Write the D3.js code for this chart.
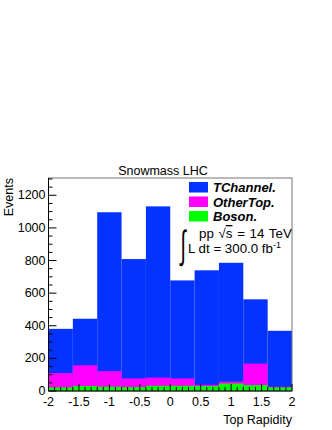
<!DOCTYPE html>
<html>
<head>
<meta charset="utf-8">
<script src="https://cdn.jsdelivr.net/npm/d3@7"></script>
<style>
  body { margin: 0; background: #fff; }
  text { font-family: "Liberation Sans", Arial, sans-serif; }
</style>
</head>
<body>
<div id="chart"></div>
<script>
const binEdges = [-2, -1.6, -1.2, -0.8, -0.4, 0, 0.4, 0.8, 1.2, 1.6, 2];
const boson = [22, 30, 26, 24, 32, 32, 30, 46, 36, 22];
const otherTop = [88, 128, 96, 53, 50, 45, 8, 12, 132, 4];
const tChannel = [271, 285, 974, 732, 1050, 601, 702, 728, 394, 343];
const xTicks = [-2, -1.5, -1, -0.5, 0, 0.5, 1, 1.5, 2];
const yTicks = [0, 200, 400, 600, 800, 1000, 1200];

const svg = d3.select("#chart").append("svg").attr("width", 332).attr("height", 430);
const plotL = 48.5, plotR = 292, plotT = 178, plotB = 391;

const x = d3.scaleLinear().domain([-2, 2]).range([plotL, plotR]);
const y = d3.scaleLinear().domain([0, 1306]).range([plotB, plotT]);

const rows = boson.map((b, i) => ({ x0: binEdges[i], x1: binEdges[i + 1], boson: b, otherTop: otherTop[i], tChannel: tChannel[i] }));
const keys = ["boson", "otherTop", "tChannel"];
const colors = { boson: "#00ff00", otherTop: "#ff00ff", tChannel: "#0433ff" };
const stacked = d3.stack().keys(keys)(rows);

// draw from the top layer down so each layer covers from zero
stacked.slice().reverse().forEach(layer => {
    svg.append("g").selectAll("rect")
        .data(layer)
        .enter().append("rect")
        .attr("x", d => x(d.data.x0))
        .attr("width", d => x(d.data.x1) - x(d.data.x0))
        .attr("y", d => y(d[1]))
        .attr("height", d => y(0) - y(d[1]))
        .attr("fill", colors[layer.key]);
});

// frame
svg.append("rect").attr("x", plotL).attr("y", plotT).attr("width", plotR - plotL).attr("height", plotB - plotT)
    .attr("fill", "none").attr("stroke", "#777").attr("stroke-width", 1);

// y axis ticks (inside)
const yMinor = d3.range(0, 1301, 50);
svg.append("g").selectAll("line").data(yMinor).enter().append("line")
    .attr("x1", plotL).attr("x2", d => plotL + (d % 200 === 0 ? 8 : 4))
    .attr("y1", d => y(d)).attr("y2", d => y(d)).attr("stroke", "#000");
svg.append("line").attr("x1", plotL).attr("x2", plotL).attr("y1", plotT).attr("y2", plotB).attr("stroke", "#000");
svg.append("g").selectAll("text").data(yTicks).enter().append("text")
    .attr("x", plotL - 3).attr("y", d => y(d) + 4)
    .attr("text-anchor", "end").attr("font-size", 12.5).text(d => d);

// x axis ticks (inside)
const xMinor = d3.range(-20, 21, 1).map(v => v / 10);
svg.append("g").selectAll("line").data(xMinor).enter().append("line")
    .attr("x1", d => x(d)).attr("x2", d => x(d))
    .attr("y1", plotB).attr("y2", (d, i) => plotB - (i % 5 === 0 ? 7 : 4)).attr("stroke", "#000");
svg.append("line").attr("x1", plotL).attr("x2", plotR).attr("y1", plotB).attr("y2", plotB).attr("stroke", "#000");
svg.append("g").selectAll("text").data(xTicks).enter().append("text")
    .attr("x", d => x(d)).attr("y", 406)
    .attr("text-anchor", "middle").attr("font-size", 12.5).text(d => d);

// titles
svg.append("text").attr("x", 163).attr("y", 175).attr("text-anchor", "middle").attr("font-size", 12.5).text("Snowmass LHC");
svg.append("text").attr("x", plotR).attr("y", 424).attr("text-anchor", "end").attr("font-size", 12.5).text("Top Rapidity");
svg.append("text").attr("transform", `translate(12.5, ${plotT}) rotate(-90)`).attr("text-anchor", "end").attr("font-size", 12.5).text("Events");

// legend
const legendNames = ["TChannel.", "OtherTop.", "Boson."];
const legendKeys = ["tChannel", "otherTop", "boson"];
const legend = svg.append("g").attr("transform", "translate(189, 182)");
legendKeys.forEach((k, i) => {
    const row = legend.append("g").attr("transform", `translate(0, ${i * 14.5})`);
    row.append("rect").attr("width", 19).attr("height", 10.5).attr("fill", colors[k]);
    row.append("text").attr("x", 24).attr("y", 10).attr("font-size", 13)
        .attr("font-weight", "bold").attr("font-style", "italic").text(legendNames[i]);
});

// luminosity text
svg.append("text").attr("transform", "translate(180.5, 258) scale(0.7, 1.4)").attr("font-size", 28)
    .attr("font-weight", 300).text("\u222B");
const ppText = svg.append("text").attr("x", 199).attr("y", 238).attr("font-size", 13.3).attr("word-spacing", 1);
ppText.append("tspan").text("pp \u221A");
ppText.append("tspan").attr("text-decoration", "overline").text("s");
ppText.append("tspan").text(" = 14 TeV");
const lum = svg.append("text").attr("x", 188).attr("y", 253).attr("font-size", 13.3).text("L dt = 300.0 fb");
lum.append("tspan").attr("dy", -5).attr("font-size", 9).text("-1");
</script>
</body>
</html>
